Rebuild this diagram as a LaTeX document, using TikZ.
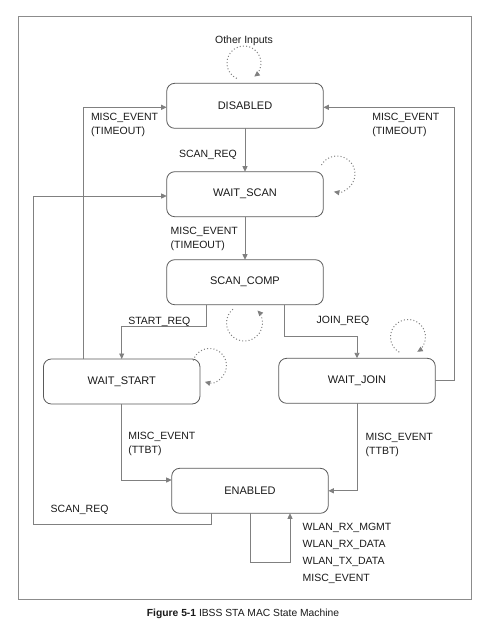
\documentclass[tikz,border=0pt]{standalone}
\usepackage{fontspec}
\setmainfont{Liberation Sans}
\usetikzlibrary{arrows.meta}
\definecolor{linegray}{HTML}{808080}
\definecolor{boxgray}{HTML}{5A5A5A}
\definecolor{framegray}{HTML}{8C8C8C}
\definecolor{txt}{HTML}{1A1A1A}
\tikzset{
  state/.style={draw=boxgray, line width=0.8pt, rounded corners=8pt, rectangle,
    minimum width=156.6pt, minimum height=45pt, inner sep=0pt, outer sep=0pt,
    text=txt, font=\fontsize{11}{13}\selectfont},
  arr/.style={draw=linegray, line width=0.9pt, -{Triangle[length=5.5pt,width=5pt]}},
  conn/.style={draw=linegray, line width=0.9pt},
  loopd/.style={draw=linegray, line width=1pt, dash pattern=on 1pt off 2.2pt,
    -{Triangle[length=5.5pt,width=5pt]}},
  lbl/.style={inner sep=0pt, outer sep=0pt, text=txt, align=left,
    font=\fontsize{10.5}{14}\selectfont},
}
\begin{document}
\begin{tikzpicture}[x=1pt,y=-1pt]
\useasboundingbox (0,0) rectangle (487,627);
\fill[white] (0,0) rectangle (487,627);
% frame
\draw[framegray, line width=1pt] (18.3,16) rectangle (471,599.3);

% states
\node[state] (dis) at (245,105.8) {DISABLED};
\node[state] (ws)  at (245,194.2) {WAIT\_SCAN};
\node[state] (sc)  at (245,282.2) {SCAN\_COMP};
\node[state] (wst) at (121.7,381.5) {WAIT\_START};
\node[state] (wj)  at (357,380.8) {WAIT\_JOIN};
\node[state] (en)  at (250,490.8) {ENABLED};

% main connectors
\draw[arr] (dis.south) -- (ws.north);
\draw[arr] (ws.south) -- (sc.north);
\draw[arr] (sc.south -| 206.7,0) -- (206.7,326.7) -| (wst.north);
\draw[arr] (sc.south -| 284.3,0) -- (284.3,336.7) -| (wj.north);
\draw[arr] (wst.south) |- (en.west |- 0,480);
\draw[arr] (wj.south) |- (en.east);
\draw[arr] (en.south -| 211,0) -- (211,524) -- (33.3,524) |- (ws.west |- 0,196);
\draw[arr] (wst.north -| 83.3,0) |- (dis.west |- 0,107.3);
\draw[arr] (wj.east) -- (454,380.8) |- (dis.east |- 0,107.3);
\draw[arr] (en.south -| 250.7,0) -- (250.7,562.3) -| (en.south -| 290,0);

% dotted self loops
\draw[loopd] (244,63) ++(115:17) arc[start angle=115, end angle=413, radius=17];
\draw[loopd] (337,174) ++(210:18) arc[start angle=210, end angle=460, radius=18];
\draw[loopd] (244.5,323) ++(230:18) arc[start angle=230, end angle=-44, radius=18];
\draw[loopd] (209.5,365.5) ++(197:17) arc[start angle=197, end angle=466, radius=17];
\draw[loopd] (408,337) ++(120:17.5) arc[start angle=120, end angle=418, radius=17.5];

% labels
\node[lbl, anchor=base] (oi) at (244,43) {Other Inputs};
\node[lbl, anchor=base west] (l1) at (179,157) {SCAN\_REQ};
\node[lbl, anchor=north west] (l2) at (170.7,227) {MISC\_EVENT\\(TIMEOUT)};
\node[lbl, anchor=north west] (l3) at (91,113.5) {MISC\_EVENT\\(TIMEOUT)};
\node[lbl, anchor=north west] (l4) at (372.3,113.5) {MISC\_EVENT\\(TIMEOUT)};
\node[lbl, anchor=base west] (l5) at (128.3,324) {START\_REQ};
\node[lbl, anchor=base west] (l6) at (316.7,323) {JOIN\_REQ};
\node[lbl, anchor=north west] (l7) at (128.3,432) {MISC\_EVENT\\(TTBT)};
\node[lbl, anchor=north west] (l8) at (365.7,433) {MISC\_EVENT\\(TTBT)};
\node[lbl, anchor=base west] (l9) at (50.7,512) {SCAN\_REQ};
\node[lbl, anchor=north west, font=\fontsize{10.5}{17.2}\selectfont] (l10) at (302.7,523)
  {WLAN\_RX\_MGMT\\WLAN\_RX\_DATA\\WLAN\_TX\_DATA\\MISC\_EVENT};

% caption
\node[lbl, anchor=base, font=\fontsize{10.3}{12}\selectfont] (cap) at (243,616)
  {\textbf{Figure 5-1} IBSS STA MAC State Machine};
\end{tikzpicture}
\end{document}
